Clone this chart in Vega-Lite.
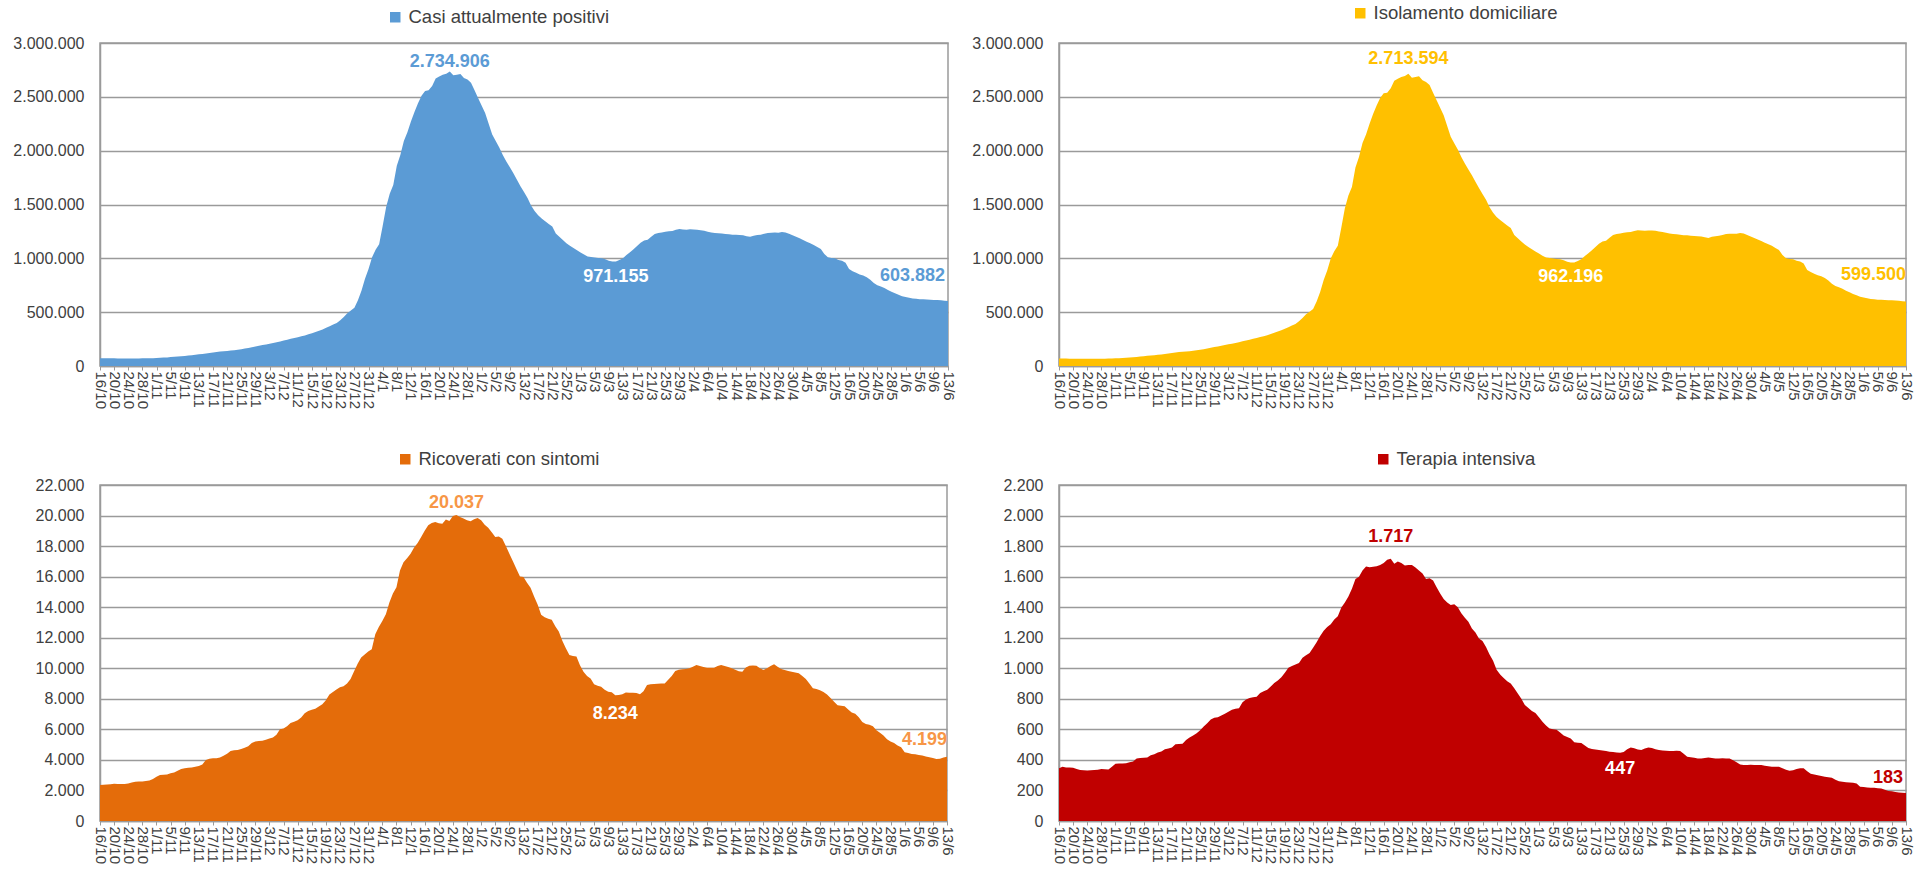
{
"$schema": "https://vega.github.io/schema/vega-lite/v6.json",
"padding": {"left": 0, "top": 3, "right": 0, "bottom": 0},
"config": {
  "font": "Liberation Sans",
  "locale": {"number": {"decimal": ",", "thousands": ".", "grouping": [3], "currency": ["€", ""]}},
  "view": {"stroke": "#9a9a9a", "strokeWidth": 1.5},
  "axisX": {"labelAngle": 90, "labelFontSize": 15, "labelColor": "#404040", "tickSize": 4, "tickColor": "#9a9a9a", "tickCount": 200, "domainColor": "#9a9a9a", "domainWidth": 1.5, "grid": false, "labelPadding": 1, "labelOverlap": false, "labelFlush": false, "minExtent": 50, "maxExtent": 50},
  "axisY": {"grid": true, "gridColor": "#9a9a9a", "gridWidth": 1.5, "ticks": false, "tickCount": 50, "domainColor": "#9a9a9a", "domainWidth": 1.5, "labelPadding": 16, "labelFontSize": 16, "labelColor": "#404040", "labelOverlap": false, "minExtent": 99, "maxExtent": 99},
  "legend": {"orient": "none", "symbolType": "square", "symbolSize": 110, "symbolStrokeWidth": 0, "symbolOpacity": 1, "labelFontSize": 18.5, "labelColor": "#404040", "labelOffset": 4, "labelLimit": 0, "padding": 0, "title": null},
  "text": {"fontSize": 18, "fontWeight": "bold", "baseline": "middle"}
},
"datasets": {"d": [
{"day":0,"tot":73000,"iso":70306,"ric":2349,"ti":345},
{"day":1,"tot":72000,"iso":69265,"ric":2380,"ti":355},
{"day":2,"tot":72000,"iso":69256,"ric":2393,"ti":351},
{"day":3,"tot":71000,"iso":68240,"ric":2410,"ti":350},
{"day":4,"tot":71000,"iso":68215,"ric":2436,"ti":349},
{"day":5,"tot":70000,"iso":67240,"ric":2420,"ti":340},
{"day":6,"tot":70000,"iso":67251,"ric":2415,"ti":334},
{"day":7,"tot":70000,"iso":67238,"ric":2430,"ti":332},
{"day":8,"tot":70000,"iso":67211,"ric":2458,"ti":331},
{"day":9,"tot":70000,"iso":67147,"ric":2520,"ti":333},
{"day":10,"tot":70000,"iso":67098,"ric":2568,"ti":334},
{"day":11,"tot":70000,"iso":67079,"ric":2585,"ti":336},
{"day":12,"tot":71000,"iso":68070,"ric":2590,"ti":340},
{"day":13,"tot":71000,"iso":68041,"ric":2620,"ti":339},
{"day":14,"tot":72000,"iso":69002,"ric":2660,"ti":338},
{"day":15,"tot":73000,"iso":69901,"ric":2744,"ti":355},
{"day":16,"tot":75000,"iso":71725,"ric":2900,"ti":375},
{"day":17,"tot":76000,"iso":72617,"ric":3007,"ti":376},
{"day":18,"tot":78000,"iso":74593,"ric":3030,"ti":377},
{"day":19,"tot":80000,"iso":76571,"ric":3051,"ti":378},
{"day":20,"tot":83000,"iso":79495,"ric":3120,"ti":385},
{"day":21,"tot":86000,"iso":82428,"ric":3183,"ti":389},
{"day":22,"tot":88000,"iso":84298,"ric":3292,"ti":410},
{"day":23,"tot":91000,"iso":87188,"ric":3400,"ti":412},
{"day":24,"tot":94000,"iso":90140,"ric":3446,"ti":414},
{"day":25,"tot":98000,"iso":94105,"ric":3480,"ti":415},
{"day":26,"tot":101000,"iso":97070,"ric":3500,"ti":430},
{"day":27,"tot":104000,"iso":100007,"ric":3556,"ti":437},
{"day":28,"tot":108000,"iso":103952,"ric":3600,"ti":448},
{"day":29,"tot":112000,"iso":107845,"ric":3700,"ti":455},
{"day":30,"tot":116000,"iso":111535,"ric":3995,"ti":470},
{"day":31,"tot":120000,"iso":115445,"ric":4080,"ti":475},
{"day":32,"tot":125000,"iso":120414,"ric":4105,"ti":481},
{"day":33,"tot":130000,"iso":125392,"ric":4105,"ti":503},
{"day":34,"tot":134000,"iso":129346,"ric":4150,"ti":504},
{"day":35,"tot":137000,"iso":132215,"ric":4280,"ti":505},
{"day":36,"tot":140000,"iso":135070,"ric":4400,"ti":530},
{"day":37,"tot":143000,"iso":137865,"ric":4588,"ti":547},
{"day":38,"tot":147000,"iso":141808,"ric":4632,"ti":560},
{"day":39,"tot":151000,"iso":145775,"ric":4650,"ti":575},
{"day":40,"tot":156000,"iso":150686,"ric":4719,"ti":595},
{"day":41,"tot":162000,"iso":156581,"ric":4800,"ti":619},
{"day":42,"tot":168000,"iso":162460,"ric":4900,"ti":640},
{"day":43,"tot":175000,"iso":169235,"ric":5100,"ti":665},
{"day":44,"tot":182000,"iso":176122,"ric":5202,"ti":676},
{"day":45,"tot":188000,"iso":182074,"ric":5246,"ti":680},
{"day":46,"tot":194000,"iso":188050,"ric":5260,"ti":690},
{"day":47,"tot":200000,"iso":193986,"ric":5312,"ti":702},
{"day":48,"tot":207000,"iso":200885,"ric":5400,"ti":715},
{"day":49,"tot":214000,"iso":207805,"ric":5466,"ti":729},
{"day":50,"tot":221000,"iso":214624,"ric":5641,"ti":735},
{"day":51,"tot":228000,"iso":221262,"ric":6000,"ti":738},
{"day":52,"tot":236000,"iso":229163,"ric":6060,"ti":777},
{"day":53,"tot":244000,"iso":237005,"ric":6200,"ti":795},
{"day":54,"tot":252000,"iso":244786,"ric":6409,"ti":805},
{"day":55,"tot":260000,"iso":252690,"ric":6500,"ti":810},
{"day":56,"tot":268000,"iso":260586,"ric":6600,"ti":814},
{"day":57,"tot":276000,"iso":268379,"ric":6783,"ti":838},
{"day":58,"tot":284000,"iso":276100,"ric":7050,"ti":850},
{"day":59,"tot":294000,"iso":285940,"ric":7200,"ti":860},
{"day":60,"tot":305000,"iso":296833,"ric":7287,"ti":880},
{"day":61,"tot":316000,"iso":307743,"ric":7353,"ti":904},
{"day":62,"tot":328000,"iso":319580,"ric":7500,"ti":920},
{"day":63,"tot":340000,"iso":331408,"ric":7650,"ti":942},
{"day":64,"tot":355000,"iso":346130,"ric":7900,"ti":970},
{"day":65,"tot":370000,"iso":360722,"ric":8275,"ti":1003},
{"day":66,"tot":385000,"iso":375535,"ric":8450,"ti":1015},
{"day":67,"tot":400000,"iso":390371,"ric":8604,"ti":1025},
{"day":68,"tot":425000,"iso":415215,"ric":8750,"ti":1035},
{"day":69,"tot":455000,"iso":445107,"ric":8824,"ti":1069},
{"day":70,"tot":490000,"iso":479915,"ric":9000,"ti":1085},
{"day":71,"tot":515000,"iso":504600,"ric":9300,"ti":1100},
{"day":72,"tot":540000,"iso":529053,"ric":9812,"ti":1135},
{"day":73,"tot":610000,"iso":598530,"ric":10300,"ti":1170},
{"day":74,"tot":700000,"iso":688088,"ric":10700,"ti":1212},
{"day":75,"tot":810000,"iso":797846,"ric":10909,"ti":1245},
{"day":76,"tot":900000,"iso":887630,"ric":11100,"ti":1270},
{"day":77,"tot":1010000,"iso":997474,"ric":11238,"ti":1288},
{"day":78,"tot":1080000,"iso":1066454,"ric":12226,"ti":1320},
{"day":79,"tot":1130000,"iso":1115960,"ric":12700,"ti":1340},
{"day":80,"tot":1300000,"iso":1285502,"ric":13100,"ti":1398},
{"day":81,"tot":1480000,"iso":1465027,"ric":13543,"ti":1430},
{"day":82,"tot":1600000,"iso":1584230,"ric":14300,"ti":1470},
{"day":83,"tot":1680000,"iso":1663580,"ric":14900,"ti":1520},
{"day":84,"tot":1860000,"iso":1843115,"ric":15300,"ti":1585},
{"day":85,"tot":1960000,"iso":1942003,"ric":16397,"ti":1600},
{"day":86,"tot":2090000,"iso":2071410,"ric":16950,"ti":1640},
{"day":87,"tot":2170000,"iso":2151134,"ric":17200,"ti":1666},
{"day":88,"tot":2270000,"iso":2250844,"ric":17494,"ti":1662},
{"day":89,"tot":2360000,"iso":2340435,"ric":17900,"ti":1665},
{"day":90,"tot":2440000,"iso":2420132,"ric":18200,"ti":1668},
{"day":91,"tot":2510000,"iso":2489723,"ric":18600,"ti":1677},
{"day":92,"tot":2555000,"iso":2534310,"ric":19000,"ti":1690},
{"day":93,"tot":2560000,"iso":2538930,"ric":19360,"ti":1710},
{"day":94,"tot":2600000,"iso":2578769,"ric":19514,"ti":1717},
{"day":95,"tot":2670000,"iso":2648736,"ric":19580,"ti":1684},
{"day":96,"tot":2690000,"iso":2668801,"ric":19500,"ti":1699},
{"day":97,"tot":2705000,"iso":2683840,"ric":19470,"ti":1690},
{"day":98,"tot":2715000,"iso":2693593,"ric":19734,"ti":1673},
{"day":99,"tot":2734906,"iso":2713594,"ric":19635,"ti":1677},
{"day":100,"tot":2700000,"iso":2678348,"ric":19975,"ti":1677},
{"day":101,"tot":2705000,"iso":2683303,"ric":20037,"ti":1660},
{"day":102,"tot":2712000,"iso":2690460,"ric":19900,"ti":1640},
{"day":103,"tot":2675000,"iso":2653580,"ric":19800,"ti":1620},
{"day":104,"tot":2660000,"iso":2638715,"ric":19700,"ti":1585},
{"day":105,"tot":2630000,"iso":2608786,"ric":19624,"ti":1590},
{"day":106,"tot":2560000,"iso":2538675,"ric":19750,"ti":1575},
{"day":107,"tot":2490000,"iso":2468627,"ric":19843,"ti":1530},
{"day":108,"tot":2420000,"iso":2398810,"ric":19700,"ti":1490},
{"day":109,"tot":2350000,"iso":2329147,"ric":19400,"ti":1453},
{"day":110,"tot":2250000,"iso":2229363,"ric":19207,"ti":1430},
{"day":111,"tot":2150000,"iso":2129686,"ric":18900,"ti":1414},
{"day":112,"tot":2090000,"iso":2069980,"ric":18600,"ti":1420},
{"day":113,"tot":2030000,"iso":2009964,"ric":18636,"ti":1400},
{"day":114,"tot":1960000,"iso":1940158,"ric":18482,"ti":1360},
{"day":115,"tot":1900000,"iso":1880670,"ric":18000,"ti":1330},
{"day":116,"tot":1845000,"iso":1826201,"ric":17494,"ti":1305},
{"day":117,"tot":1790000,"iso":1771740,"ric":17000,"ti":1260},
{"day":118,"tot":1730000,"iso":1712260,"ric":16506,"ti":1234},
{"day":119,"tot":1670000,"iso":1652803,"ric":16002,"ti":1195},
{"day":120,"tot":1615000,"iso":1597849,"ric":15972,"ti":1179},
{"day":121,"tot":1560000,"iso":1543260,"ric":15600,"ti":1140},
{"day":122,"tot":1490000,"iso":1473640,"ric":15269,"ti":1091},
{"day":123,"tot":1440000,"iso":1424250,"ric":14700,"ti":1050},
{"day":124,"tot":1400000,"iso":1384840,"ric":14170,"ti":990},
{"day":125,"tot":1370000,"iso":1355540,"ric":13500,"ti":960},
{"day":126,"tot":1345000,"iso":1330728,"ric":13335,"ti":937},
{"day":127,"tot":1320000,"iso":1305835,"ric":13250,"ti":915},
{"day":128,"tot":1295000,"iso":1280918,"ric":13182,"ti":900},
{"day":129,"tot":1230000,"iso":1216380,"ric":12750,"ti":870},
{"day":130,"tot":1200000,"iso":1186752,"ric":12413,"ti":835},
{"day":131,"tot":1170000,"iso":1157400,"ric":11800,"ti":800},
{"day":132,"tot":1140000,"iso":1127926,"ric":11314,"ti":760},
{"day":133,"tot":1118000,"iso":1106385,"ric":10875,"ti":740},
{"day":134,"tot":1095000,"iso":1083480,"ric":10800,"ti":720},
{"day":135,"tot":1075000,"iso":1063528,"ric":10765,"ti":707},
{"day":136,"tot":1055000,"iso":1044120,"ric":10200,"ti":680},
{"day":137,"tot":1035000,"iso":1024574,"ric":9776,"ti":650},
{"day":138,"tot":1018000,"iso":1007875,"ric":9500,"ti":625},
{"day":139,"tot":1012000,"iso":1002058,"ric":9337,"ti":605},
{"day":140,"tot":1008000,"iso":998450,"ric":8950,"ti":600},
{"day":141,"tot":1004000,"iso":994552,"ric":8850,"ti":598},
{"day":142,"tot":1000000,"iso":990632,"ric":8788,"ti":580},
{"day":143,"tot":992000,"iso":982840,"ric":8600,"ti":560},
{"day":144,"tot":978000,"iso":968992,"ric":8458,"ti":550},
{"day":145,"tot":971160,"iso":962196,"ric":8424,"ti":540},
{"day":146,"tot":971155,"iso":962405,"ric":8234,"ti":516},
{"day":147,"tot":985000,"iso":976243,"ric":8245,"ti":512},
{"day":148,"tot":1000000,"iso":991190,"ric":8300,"ti":510},
{"day":149,"tot":1030000,"iso":1021091,"ric":8414,"ti":495},
{"day":150,"tot":1056000,"iso":1047117,"ric":8405,"ti":478},
{"day":151,"tot":1085000,"iso":1076136,"ric":8392,"ti":472},
{"day":152,"tot":1115000,"iso":1106152,"ric":8380,"ti":468},
{"day":153,"tot":1145000,"iso":1136231,"ric":8304,"ti":465},
{"day":154,"tot":1165000,"iso":1156038,"ric":8500,"ti":462},
{"day":155,"tot":1172000,"iso":1162645,"ric":8897,"ti":458},
{"day":156,"tot":1200000,"iso":1190596,"ric":8950,"ti":454},
{"day":157,"tot":1225000,"iso":1215585,"ric":8963,"ti":452},
{"day":158,"tot":1235000,"iso":1225571,"ric":8980,"ti":449},
{"day":159,"tot":1240000,"iso":1230553,"ric":9000,"ti":447},
{"day":160,"tot":1248000,"iso":1238541,"ric":9007,"ti":452},
{"day":161,"tot":1252000,"iso":1242280,"ric":9250,"ti":470},
{"day":162,"tot":1255000,"iso":1245019,"ric":9500,"ti":481},
{"day":163,"tot":1265000,"iso":1254704,"ric":9820,"ti":476},
{"day":164,"tot":1272000,"iso":1261632,"ric":9900,"ti":468},
{"day":165,"tot":1268000,"iso":1257595,"ric":9940,"ti":465},
{"day":166,"tot":1266000,"iso":1255573,"ric":9952,"ti":475},
{"day":167,"tot":1270000,"iso":1259519,"ric":10000,"ti":481},
{"day":168,"tot":1268000,"iso":1257422,"ric":10100,"ti":478},
{"day":169,"tot":1266000,"iso":1255314,"ric":10216,"ti":470},
{"day":170,"tot":1260000,"iso":1249385,"ric":10150,"ti":465},
{"day":171,"tot":1256000,"iso":1245458,"ric":10080,"ti":462},
{"day":172,"tot":1248000,"iso":1237500,"ric":10040,"ti":460},
{"day":173,"tot":1240000,"iso":1229511,"ric":10030,"ti":459},
{"day":174,"tot":1236000,"iso":1225501,"ric":10040,"ti":459},
{"day":175,"tot":1234000,"iso":1223390,"ric":10150,"ti":460},
{"day":176,"tot":1230000,"iso":1219325,"ric":10216,"ti":459},
{"day":177,"tot":1226000,"iso":1215410,"ric":10150,"ti":440},
{"day":178,"tot":1224000,"iso":1213496,"ric":10084,"ti":420},
{"day":179,"tot":1220000,"iso":1209583,"ric":10000,"ti":417},
{"day":180,"tot":1218000,"iso":1207686,"ric":9900,"ti":414},
{"day":181,"tot":1216000,"iso":1205790,"ric":9800,"ti":410},
{"day":182,"tot":1214000,"iso":1203814,"ric":9776,"ti":410},
{"day":183,"tot":1206000,"iso":1195538,"ric":10050,"ti":412},
{"day":184,"tot":1200000,"iso":1189413,"ric":10172,"ti":415},
{"day":185,"tot":1210000,"iso":1199407,"ric":10180,"ti":413},
{"day":186,"tot":1216000,"iso":1205418,"ric":10172,"ti":410},
{"day":187,"tot":1220000,"iso":1209590,"ric":10000,"ti":410},
{"day":188,"tot":1228000,"iso":1217703,"ric":9886,"ti":411},
{"day":189,"tot":1236000,"iso":1225590,"ric":10000,"ti":410},
{"day":190,"tot":1238000,"iso":1227440,"ric":10150,"ti":410},
{"day":191,"tot":1240000,"iso":1229342,"ric":10260,"ti":398},
{"day":192,"tot":1238000,"iso":1227515,"ric":10100,"ti":385},
{"day":193,"tot":1245000,"iso":1234680,"ric":9950,"ti":370},
{"day":194,"tot":1240000,"iso":1229747,"ric":9886,"ti":367},
{"day":195,"tot":1228000,"iso":1217813,"ric":9820,"ti":367},
{"day":196,"tot":1214000,"iso":1203856,"ric":9776,"ti":368},
{"day":197,"tot":1200000,"iso":1189903,"ric":9730,"ti":367},
{"day":198,"tot":1186000,"iso":1175968,"ric":9666,"ti":366},
{"day":199,"tot":1170000,"iso":1160133,"ric":9500,"ti":367},
{"day":200,"tot":1155000,"iso":1145338,"ric":9300,"ti":362},
{"day":201,"tot":1140000,"iso":1130642,"ric":9000,"ti":358},
{"day":202,"tot":1125000,"iso":1115944,"ric":8700,"ti":356},
{"day":203,"tot":1105000,"iso":1095994,"ric":8650,"ti":356},
{"day":204,"tot":1086000,"iso":1077076,"ric":8568,"ti":356},
{"day":205,"tot":1040000,"iso":1031205,"ric":8450,"ti":345},
{"day":206,"tot":1010000,"iso":1001383,"ric":8282,"ti":335},
{"day":207,"tot":1003000,"iso":994621,"ric":8050,"ti":329},
{"day":208,"tot":1000000,"iso":991868,"ric":7800,"ti":332},
{"day":209,"tot":985000,"iso":977081,"ric":7579,"ti":340},
{"day":210,"tot":978000,"iso":970105,"ric":7550,"ti":345},
{"day":211,"tot":960000,"iso":952142,"ric":7513,"ti":345},
{"day":212,"tot":900000,"iso":892375,"ric":7300,"ti":325},
{"day":213,"tot":880000,"iso":872590,"ric":7100,"ti":310},
{"day":214,"tot":865000,"iso":857665,"ric":7030,"ti":305},
{"day":215,"tot":850000,"iso":842900,"ric":6800,"ti":300},
{"day":216,"tot":840000,"iso":833224,"ric":6481,"ti":295},
{"day":217,"tot":824000,"iso":817360,"ric":6350,"ti":290},
{"day":218,"tot":800000,"iso":793414,"ric":6300,"ti":286},
{"day":219,"tot":770000,"iso":763517,"ric":6200,"ti":283},
{"day":220,"tot":750000,"iso":743780,"ric":5950,"ti":270},
{"day":221,"tot":738000,"iso":731962,"ric":5778,"ti":260},
{"day":222,"tot":724000,"iso":718143,"ric":5600,"ti":257},
{"day":223,"tot":705000,"iso":699396,"ric":5350,"ti":254},
{"day":224,"tot":690000,"iso":684541,"ric":5207,"ti":252},
{"day":225,"tot":675000,"iso":669650,"ric":5100,"ti":250},
{"day":226,"tot":662000,"iso":656804,"ric":4950,"ti":246},
{"day":227,"tot":648000,"iso":642943,"ric":4833,"ti":224},
{"day":228,"tot":640000,"iso":635274,"ric":4504,"ti":222},
{"day":229,"tot":633000,"iso":628331,"ric":4450,"ti":219},
{"day":230,"tot":628000,"iso":623388,"ric":4394,"ti":218},
{"day":231,"tot":624000,"iso":619413,"ric":4370,"ti":217},
{"day":232,"tot":621000,"iso":616465,"ric":4320,"ti":215},
{"day":233,"tot":620000,"iso":615503,"ric":4284,"ti":213},
{"day":234,"tot":618000,"iso":613565,"ric":4230,"ti":205},
{"day":235,"tot":616000,"iso":611630,"ric":4174,"ti":196},
{"day":236,"tot":614000,"iso":609676,"ric":4130,"ti":194},
{"day":237,"tot":612000,"iso":607746,"ric":4064,"ti":190},
{"day":238,"tot":610000,"iso":605733,"ric":4080,"ti":187},
{"day":239,"tot":606000,"iso":601665,"ric":4150,"ti":185},
{"day":240,"tot":603882,"iso":599500,"ric":4199,"ti":183}
]},
"resolve": {"scale": {"color": "independent", "x": "independent", "y": "independent"}, "legend": {"color": "independent"}},
"spacing": 32,
"vconcat": [
{"hconcat": [
  {"width": 848, "height": 323, "data": {"name": "d"},
   "layer": [
    {"mark": {"type": "area", "opacity": 1},
     "encoding": {
      "x": {"field": "day", "type": "quantitative", "title": null, "scale": {"domain": [0, 240], "nice": false, "zero": false},
            "axis": {"values": [0,4,8,12,16,20,24,28,32,36,40,44,48,52,56,60,64,68,72,76,80,84,88,92,96,100,104,108,112,116,120,124,128,132,136,140,144,148,152,156,160,164,168,172,176,180,184,188,192,196,200,204,208,212,216,220,224,228,232,236,240],
                     "tickCount": 200, "labelOverlap": false, "labelExpr": "timeFormat(datetime(2021, 9, 16 + datum.value), '%-d/%-m')"}},
      "y": {"field": "tot", "type": "quantitative", "title": null, "scale": {"domain": [0, 3000000], "nice": false},
            "axis": {"values": [0,500000,1000000,1500000,2000000,2500000,3000000], "tickCount": 50, "format": ",d", "labelOverlap": false}},
      "color": {"datum": "Casi attualmente positivi", "type": "nominal", "scale": {"range": ["#5b9bd5"]},
                "legend": {"legendX": 286, "legendY": -35}}
     }},
    {"transform": [{"filter": "datum.day == 99"}], "mark": {"type": "text", "color": "#5b9bd5", "dy": -10},
     "encoding": {"x": {"field": "day", "type": "quantitative"}, "y": {"field": "tot", "type": "quantitative"}, "text": {"field": "tot", "type": "quantitative", "format": ",d"}}},
    {"transform": [{"filter": "datum.day == 146"}], "mark": {"type": "text", "color": "#ffffff", "dy": 16},
     "encoding": {"x": {"field": "day", "type": "quantitative"}, "y": {"field": "tot", "type": "quantitative"}, "text": {"field": "tot", "type": "quantitative", "format": ",d"}}},
    {"transform": [{"filter": "datum.day == 240"}], "mark": {"type": "text", "color": "#5b9bd5", "dy": -25, "dx": -3, "align": "right"},
     "encoding": {"x": {"field": "day", "type": "quantitative"}, "y": {"field": "tot", "type": "quantitative"}, "text": {"field": "tot", "type": "quantitative", "format": ",d"}}}
   ]},
  {"width": 847, "height": 323, "data": {"name": "d"},
   "layer": [
    {"mark": {"type": "area", "opacity": 1},
     "encoding": {
      "x": {"field": "day", "type": "quantitative", "title": null, "scale": {"domain": [0, 240], "nice": false, "zero": false},
            "axis": {"values": [0,4,8,12,16,20,24,28,32,36,40,44,48,52,56,60,64,68,72,76,80,84,88,92,96,100,104,108,112,116,120,124,128,132,136,140,144,148,152,156,160,164,168,172,176,180,184,188,192,196,200,204,208,212,216,220,224,228,232,236,240],
                     "tickCount": 200, "labelOverlap": false, "labelExpr": "timeFormat(datetime(2021, 9, 16 + datum.value), '%-d/%-m')"}},
      "y": {"field": "iso", "type": "quantitative", "title": null, "scale": {"domain": [0, 3000000], "nice": false},
            "axis": {"values": [0,500000,1000000,1500000,2000000,2500000,3000000], "tickCount": 50, "format": ",d", "labelOverlap": false}},
      "color": {"datum": "Isolamento domiciliare", "type": "nominal", "scale": {"range": ["#ffc000"]},
                "legend": {"legendX": 292, "legendY": -39}}
     }},
    {"transform": [{"filter": "datum.day == 99"}], "mark": {"type": "text", "color": "#ffc000", "dy": -15},
     "encoding": {"x": {"field": "day", "type": "quantitative"}, "y": {"field": "iso", "type": "quantitative"}, "text": {"field": "iso", "type": "quantitative", "format": ",d"}}},
    {"transform": [{"filter": "datum.day == 145"}], "mark": {"type": "text", "color": "#ffffff", "dy": 15},
     "encoding": {"x": {"field": "day", "type": "quantitative"}, "y": {"field": "iso", "type": "quantitative"}, "text": {"field": "iso", "type": "quantitative", "format": ",d"}}},
    {"transform": [{"filter": "datum.day == 240"}], "mark": {"type": "text", "color": "#ffc000", "dy": -26, "dx": 0, "align": "right"},
     "encoding": {"x": {"field": "day", "type": "quantitative"}, "y": {"field": "iso", "type": "quantitative"}, "text": {"field": "iso", "type": "quantitative", "format": ",d"}}}
   ]}
 ], "spacing": 3, "resolve": {"scale": {"color": "independent", "x": "independent", "y": "independent"}, "legend": {"color": "independent"}}},
{"hconcat": [
  {"width": 847, "height": 336, "data": {"name": "d"},
   "layer": [
    {"mark": {"type": "area", "opacity": 1},
     "encoding": {
      "x": {"field": "day", "type": "quantitative", "title": null, "scale": {"domain": [0, 240], "nice": false, "zero": false},
            "axis": {"values": [0,4,8,12,16,20,24,28,32,36,40,44,48,52,56,60,64,68,72,76,80,84,88,92,96,100,104,108,112,116,120,124,128,132,136,140,144,148,152,156,160,164,168,172,176,180,184,188,192,196,200,204,208,212,216,220,224,228,232,236,240],
                     "tickCount": 200, "labelOverlap": false, "labelExpr": "timeFormat(datetime(2021, 9, 16 + datum.value), '%-d/%-m')"}},
      "y": {"field": "ric", "type": "quantitative", "title": null, "scale": {"domain": [0, 22000], "nice": false},
            "axis": {"values": [0,2000,4000,6000,8000,10000,12000,14000,16000,18000,20000,22000], "tickCount": 50, "format": ",d", "labelOverlap": false, "minExtent": 98, "maxExtent": 98}},
      "color": {"datum": "Ricoverati con sintomi", "type": "nominal", "scale": {"range": ["#e46c0a"]},
                "legend": {"legendX": 296, "legendY": -35}}
     }},
    {"transform": [{"filter": "datum.day == 101"}], "mark": {"type": "text", "color": "#f79646", "dy": -12},
     "encoding": {"x": {"field": "day", "type": "quantitative"}, "y": {"field": "ric", "type": "quantitative"}, "text": {"field": "ric", "type": "quantitative", "format": ",d"}}},
    {"transform": [{"filter": "datum.day == 146"}], "mark": {"type": "text", "color": "#ffffff", "dy": 19},
     "encoding": {"x": {"field": "day", "type": "quantitative"}, "y": {"field": "ric", "type": "quantitative"}, "text": {"field": "ric", "type": "quantitative", "format": ",d"}}},
    {"transform": [{"filter": "datum.day == 240"}], "mark": {"type": "text", "color": "#f79646", "dy": -17, "dx": 0, "align": "right"},
     "encoding": {"x": {"field": "day", "type": "quantitative"}, "y": {"field": "ric", "type": "quantitative"}, "text": {"field": "ric", "type": "quantitative", "format": ",d"}}}
   ]},
  {"width": 847, "height": 336, "data": {"name": "d"},
   "layer": [
    {"mark": {"type": "area", "opacity": 1},
     "encoding": {
      "x": {"field": "day", "type": "quantitative", "title": null, "scale": {"domain": [0, 240], "nice": false, "zero": false},
            "axis": {"values": [0,4,8,12,16,20,24,28,32,36,40,44,48,52,56,60,64,68,72,76,80,84,88,92,96,100,104,108,112,116,120,124,128,132,136,140,144,148,152,156,160,164,168,172,176,180,184,188,192,196,200,204,208,212,216,220,224,228,232,236,240],
                     "tickCount": 200, "labelOverlap": false, "labelExpr": "timeFormat(datetime(2021, 9, 16 + datum.value), '%-d/%-m')"}},
      "y": {"field": "ti", "type": "quantitative", "title": null, "scale": {"domain": [0, 2200], "nice": false},
            "axis": {"values": [0,200,400,600,800,1000,1200,1400,1600,1800,2000,2200], "tickCount": 50, "format": ",d", "labelOverlap": false}},
      "color": {"datum": "Terapia intensiva", "type": "nominal", "scale": {"range": ["#c00000"]},
                "legend": {"legendX": 315, "legendY": -35}}
     }},
    {"transform": [{"filter": "datum.day == 94"}], "mark": {"type": "text", "color": "#c00000", "dy": -22},
     "encoding": {"x": {"field": "day", "type": "quantitative"}, "y": {"field": "ti", "type": "quantitative"}, "text": {"field": "ti", "type": "quantitative", "format": ",d"}}},
    {"transform": [{"filter": "datum.day == 159"}], "mark": {"type": "text", "color": "#ffffff", "dy": 16},
     "encoding": {"x": {"field": "day", "type": "quantitative"}, "y": {"field": "ti", "type": "quantitative"}, "text": {"field": "ti", "type": "quantitative", "format": ",d"}}},
    {"transform": [{"filter": "datum.day == 240"}], "mark": {"type": "text", "color": "#c00000", "dy": -15, "dx": -3, "align": "right"},
     "encoding": {"x": {"field": "day", "type": "quantitative"}, "y": {"field": "ti", "type": "quantitative"}, "text": {"field": "ti", "type": "quantitative", "format": ",d"}}}
   ]}
 ], "spacing": 4, "resolve": {"scale": {"color": "independent", "x": "independent", "y": "independent"}, "legend": {"color": "independent"}}}
]
}
